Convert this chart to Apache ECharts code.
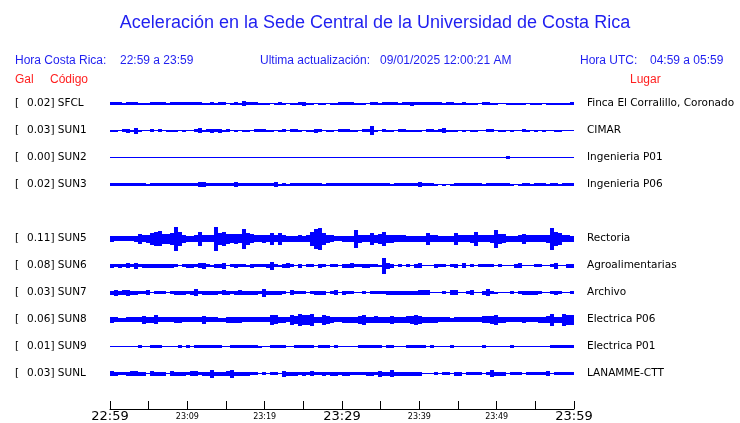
<!DOCTYPE html>
<html>
<head>
<meta charset="utf-8">
<script src="https://cdn.jsdelivr.net/npm/echarts@6/dist/echarts.min.js"></script>
<style>html,body{margin:0;padding:0;background:#fff}#c{width:740px;height:423px}</style>
</head>
<body>
<div id="c"></div>
<script>
// ---- text ----
const titleText = 'Aceleración en la Sede Central de la Universidad de Costa Rica';
const crLabel = 'Hora Costa Rica:';
const crRange = '22:59 a 23:59';
const updLabel = 'Ultima actualización:';
const updValue = '09/01/2025 12:00:21 AM';
const utcLabel = 'Hora UTC:';
const utcRange = '04:59 a 05:59';
const hdrGal = 'Gal';
const hdrCode = 'Código';
const hdrPlace = 'Lugar';

// ---- rows (row 4 is an empty slot) ----
const rowCodes = ['SFCL','SUN1','SUN2','SUN3','','SUN5','SUN6','SUN7','SUN8','SUN9','SUNL'];
const galValues = ['0.02','0.03','0.00','0.02','','0.11','0.08','0.03','0.06','0.01','0.03'];
const places = ['Finca El Corralillo, Coronado','CIMAR','Ingenieria P01','Ingenieria P06','',
  'Rectoria','Agroalimentarias','Archivo','Electrica P06','Electrica P01','LANAMME-CTT'];

// ---- time axis ----
const tickLabels = ['22:59','23:09','23:19','23:29','23:39','23:49','23:59'];
const bigTickLabels = ['22:59','23:29','23:59'];
const spanMinutes = 60;

// ---- trace envelopes: peak-to-peak amplitude per sample (display counts), 116 samples over 60 min ----
const ampSFCL = [3,3,3,2,3,3,3,2,2,2,
 3,3,3,3,2,3,3,3,3,3,
 3,3,3,2,2,3,2,3,3,1,
 2,3,2,5,3,3,3,2,2,2,
 1,2,3,2,1,2,2,3,4,2,
 2,1,2,2,1,2,2,3,3,3,
 3,2,2,2,1,3,3,2,3,3,
 3,3,2,3,3,4,3,3,3,3,
 3,3,3,2,3,3,2,2,3,2,
 2,2,1,3,3,2,2,1,1,2,
 2,2,2,2,1,2,2,2,1,2,
 2,2,2,2,2,3];
const ampSUN1 = [2,2,1,3,4,2,6,2,1,1,
 3,1,3,1,2,2,2,1,2,1,
 1,3,5,2,3,4,3,4,2,3,
 1,2,1,2,2,1,3,3,3,2,
 2,1,2,3,1,3,3,2,1,2,
 2,4,3,1,2,2,1,3,3,3,
 2,2,1,3,3,9,2,1,3,2,
 2,1,3,3,2,2,2,2,1,3,
 3,2,3,5,2,2,2,1,2,1,
 2,2,1,1,3,3,1,2,2,1,
 2,1,1,3,2,1,2,1,2,1,
 1,2,2,1,1,1];
const ampSUN2 = [1,1,1,1,1,1,1,1,1,1,
 1,1,1,1,1,1,1,1,1,1,
 1,1,1,1,1,1,1,1,1,1,
 1,1,1,1,1,1,1,1,1,1,
 1,1,1,1,1,1,1,1,1,1,
 1,1,1,1,1,1,1,1,1,1,
 1,1,1,1,1,1,1,1,1,1,
 1,1,1,1,1,1,1,1,1,1,
 1,1,1,1,1,1,1,1,1,1,
 1,1,1,1,1,1,1,1,1,3,
 1,1,1,1,1,1,1,1,1,1,
 1,1,1,1,1,1];
const ampSUN3 = [3,3,3,3,3,3,3,3,3,2,
 3,3,3,3,3,3,3,3,3,3,
 3,3,5,5,3,3,3,3,3,3,
 3,5,3,3,3,3,3,3,3,3,
 3,5,2,3,2,3,3,3,3,3,
 3,3,3,2,3,3,3,3,3,3,
 3,3,3,3,3,3,3,3,3,3,
 2,3,3,3,3,3,3,5,3,3,
 3,2,1,2,1,2,3,3,3,3,
 3,3,3,2,3,3,3,3,3,3,
 2,1,2,3,3,2,3,3,3,2,
 3,3,2,3,3,3];
const ampSUN5 = [6,5,5,5,5,5,6,10,7,8,
 12,14,15,10,10,12,24,14,8,6,
 6,7,14,7,7,7,24,12,14,10,
 9,10,9,20,12,9,7,7,8,7,
 12,7,12,7,6,6,6,7,6,7,
 14,20,22,12,8,7,5,5,6,6,
 6,18,8,7,7,12,8,10,14,8,
 8,7,7,7,6,6,6,6,6,12,
 7,7,6,6,6,6,12,7,7,7,
 8,14,7,7,7,8,18,10,9,6,
 6,6,7,10,7,7,7,7,7,8,
 22,14,12,7,7,6];
const ampSUN6 = [4,3,4,3,5,3,6,3,4,4,
 4,4,4,4,4,4,3,1,3,4,
 4,3,5,6,3,2,4,4,6,1,
 3,4,3,3,2,4,3,3,3,4,
 8,3,2,4,5,3,1,4,1,3,
 3,1,4,3,1,3,3,1,4,4,
 5,3,3,4,4,3,3,2,16,6,
 4,1,3,1,3,1,4,5,1,1,
 1,4,3,3,1,3,4,1,5,1,
 3,1,3,3,3,3,1,3,1,1,
 1,4,5,1,1,1,3,3,1,1,
 3,6,1,1,4,4];
const ampSUN7 = [4,6,4,5,6,4,4,3,3,5,
 1,3,3,3,1,3,4,4,4,3,
 4,7,3,4,4,4,4,3,5,4,
 3,4,5,4,4,4,4,3,8,4,
 4,4,4,3,1,5,3,3,3,1,
 3,4,4,4,1,3,5,1,4,3,
 3,1,1,3,1,3,3,3,3,4,
 4,4,4,4,4,4,4,5,5,5,
 1,1,1,3,1,5,5,1,1,3,
 5,1,1,4,7,3,2,1,1,1,
 3,1,3,4,4,4,4,3,1,1,
 3,4,3,1,1,3];
const ampSUN8 = [6,5,4,4,5,5,5,5,8,6,
 6,9,5,5,5,5,6,6,5,5,
 5,5,5,8,5,5,5,4,4,6,
 6,6,6,5,5,5,5,5,5,5,
 10,9,6,6,5,10,8,12,10,10,
 12,6,6,10,8,6,5,5,6,6,
 6,6,8,10,6,6,7,6,6,6,
 8,6,6,6,7,8,10,8,6,6,
 6,6,5,5,5,4,5,5,5,5,
 5,5,5,7,7,8,10,6,6,5,
 5,5,5,6,5,5,5,6,6,7,
 12,6,6,12,10,10];
const ampSUN9 = [1,1,1,1,1,1,1,3,1,1,
 3,3,3,1,1,1,1,3,1,3,
 1,3,3,3,3,3,3,3,1,1,
 3,3,3,3,3,3,3,2,1,1,
 3,3,3,3,1,1,3,3,3,3,
 3,1,3,3,3,1,3,1,1,1,
 1,1,3,3,3,3,3,3,1,3,
 3,1,1,1,3,3,3,3,3,1,
 3,1,1,1,1,3,1,1,1,1,
 1,1,1,3,1,1,1,1,1,1,
 3,1,1,1,1,1,1,1,1,1,
 3,3,3,3,3,3];
const ampSUNL = [5,4,3,3,4,5,5,4,4,1,
 5,4,4,4,1,5,4,4,4,3,
 5,5,3,4,4,8,4,4,4,5,
 8,4,4,4,4,3,3,1,3,1,
 3,3,1,6,4,4,4,3,4,3,
 5,3,3,4,3,4,4,3,4,4,
 3,3,3,3,4,4,3,6,4,4,
 7,4,4,4,4,4,4,4,1,1,
 1,3,1,3,3,1,4,4,1,3,
 3,3,3,1,3,7,4,4,4,1,
 3,3,3,1,3,3,3,3,3,5,
 1,3,3,3,3,3];

const traceByRow = [ampSFCL, ampSUN1, ampSUN2, ampSUN3, null, ampSUN5, ampSUN6, ampSUN7, ampSUN8, ampSUN9, ampSUNL];

// ---- style ----
const BLUE_TXT = '#1f1ff0';
const RED_TXT = '#ff1f1f';
const TRACE = '#0000ff';
const ROW_COUNTS = 27; // display counts per row spacing

const chart = echarts.init(document.getElementById('c'), null, {renderer: 'canvas'});

function renderTrace(params, api) {
  const t = api.value(0), row = api.value(1), h = api.value(2), dt = api.value(3);
  const p0 = api.coord([t, row]);
  const p1 = api.coord([t + dt, row]);
  const band = api.size([0, 1])[1];
  const hp = Math.max(1, Math.round(h * band / ROW_COUNTS));
  const cy = Math.round(p0[1] - 0.5);
  const x0 = Math.round(p0[0]), x1 = Math.round(p1[0]);
  return {
    type: 'rect',
    shape: {x: x0, y: Math.round(cy - (hp - 1) / 2), width: x1 - x0, height: hp},
    style: {fill: TRACE}
  };
}

const series = [];
traceByRow.forEach((amps, row) => {
  if (!amps) return;
  const dt = spanMinutes / amps.length;
  series.push({
    type: 'custom',
    name: rowCodes[row],
    xAxisIndex: 0, yAxisIndex: 0,
    renderItem: renderTrace,
    clip: false,
    silent: true,
    encode: {x: 0, y: 1},
    data: amps.map((h, i) => [i * dt, row, h, dt])
  });
});

const labelFont = 'DejaVu Sans';
const hdrFont = 'Liberation Sans';

chart.setOption({
  animation: false,
  backgroundColor: '#fff',
  grid: {left: 110, right: 166, top: 89.5, height: 297},
  xAxis: {
    type: 'value', min: 0, max: spanMinutes, interval: 5,
    position: 'bottom', offset: 22.5,
    axisLine: {show: true, lineStyle: {color: '#000', width: 1}},
    axisTick: {show: true, inside: true, length: 8, lineStyle: {color: '#000', width: 1}},
    splitLine: {show: false},
    axisLabel: {
      interval: 0, margin: 1, showMinLabel: true, showMaxLabel: true, hideOverlap: false,
      formatter: v => {
        if (v % 10 !== 0) return '';
        const s = tickLabels[v / 10];
        return bigTickLabels.includes(s) ? '{big|' + s + '}' : '{small|' + s + '}';
      },
      rich: {
        big: {fontSize: 13, fontFamily: labelFont, color: '#000', lineHeight: 13},
        small: {fontSize: 8, fontFamily: labelFont, color: '#000', lineHeight: 13}
      }
    }
  },
  yAxis: [{
    type: 'category', position: 'left', inverse: true, data: rowCodes,
    axisLine: {show: false}, axisTick: {show: false}, splitLine: {show: false},
    axisLabel: {
      interval: 0, align: 'left', margin: 95, color: '#000',
      fontFamily: labelFont, fontSize: 10.5,
      formatter: (v, i) => galValues[i] ? '{a|[}{b|' + galValues[i] + ']} ' + v : '',
      rich: {a: {width: 12, fontFamily: labelFont, fontSize: 10.5, color: '#000'},
             b: {fontFamily: labelFont, fontSize: 10.5, color: '#000'}}
    }
  }, {
    type: 'category', position: 'right', inverse: true, data: places,
    axisLine: {show: false}, axisTick: {show: false}, splitLine: {show: false},
    axisLabel: {interval: 0, align: 'left', margin: 13, color: '#000', fontFamily: labelFont, fontSize: 10.5}
  }],
  graphic: [
    {type: 'text', x: 375, y: 23, style: {text: titleText, font: '18px "' + hdrFont + '"', fill: BLUE_TXT, textAlign: 'center', textVerticalAlign: 'middle'}},
    {type: 'text', x: 15, y: 61, style: {text: crLabel, font: '12px "' + hdrFont + '"', fill: BLUE_TXT, textVerticalAlign: 'middle'}},
    {type: 'text', x: 120, y: 61, style: {text: crRange, font: '12px "' + hdrFont + '"', fill: BLUE_TXT, textVerticalAlign: 'middle'}},
    {type: 'text', x: 260, y: 61, style: {text: updLabel, font: '12px "' + hdrFont + '"', fill: BLUE_TXT, textVerticalAlign: 'middle'}},
    {type: 'text', x: 380, y: 61, style: {text: updValue, font: '12px "' + hdrFont + '"', fill: BLUE_TXT, textVerticalAlign: 'middle'}},
    {type: 'text', x: 580, y: 61, style: {text: utcLabel, font: '12px "' + hdrFont + '"', fill: BLUE_TXT, textVerticalAlign: 'middle'}},
    {type: 'text', x: 650, y: 61, style: {text: utcRange, font: '12px "' + hdrFont + '"', fill: BLUE_TXT, textVerticalAlign: 'middle'}},
    {type: 'text', x: 15, y: 80, style: {text: hdrGal, font: '12px "' + hdrFont + '"', fill: RED_TXT, textVerticalAlign: 'middle'}},
    {type: 'text', x: 50, y: 80, style: {text: hdrCode, font: '12px "' + hdrFont + '"', fill: RED_TXT, textVerticalAlign: 'middle'}},
    {type: 'text', x: 630, y: 80, style: {text: hdrPlace, font: '12px "' + hdrFont + '"', fill: RED_TXT, textVerticalAlign: 'middle'}}
  ],
  series: series
});
</script>
</body>
</html>
